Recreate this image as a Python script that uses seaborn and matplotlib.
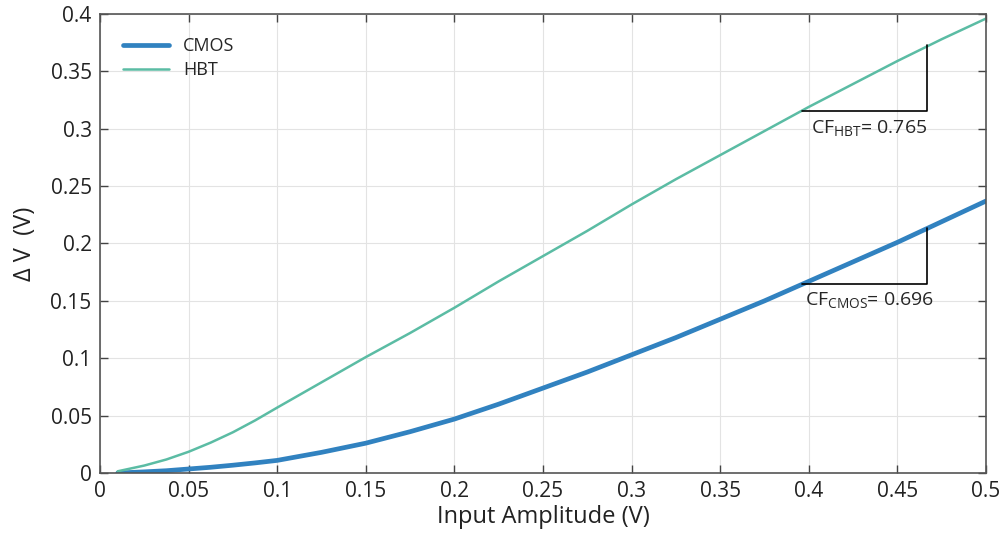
import numpy as np
import pandas as pd
import seaborn as sns
import matplotlib.pyplot as plt

# Values
amplitude = [0.01, 0.025, 0.0375, 0.05, 0.0625, 0.075, 0.0875, 0.1, 0.125, 0.15, 0.175,
             0.2, 0.225, 0.25, 0.275, 0.3, 0.325, 0.35, 0.375, 0.4, 0.425, 0.45, 0.475, 0.5]
dv_cmos = [0.0, 0.001, 0.002, 0.0035, 0.005, 0.0068, 0.0088, 0.011, 0.018, 0.026, 0.036,
           0.047, 0.060, 0.074, 0.088, 0.103, 0.118, 0.134, 0.150, 0.167, 0.184, 0.201,
           0.219, 0.237]
dv_hbt = [0.0015, 0.0065, 0.0118, 0.0185, 0.0265, 0.0355, 0.0458, 0.057, 0.079, 0.101,
          0.122, 0.144, 0.167, 0.189, 0.211, 0.234, 0.256, 0.277, 0.298, 0.319, 0.339,
          0.359, 0.378, 0.396]
series = ["CMOS", "HBT"]
colors = {"CMOS": "#3182c0", "HBT": "#5bbca4"}
widths = {"CMOS": 3.4, "HBT": 1.8}

# slope triangles: (x0, x1, y0, y1)
cf_hbt = (0.396, 0.467, 0.3155, 0.373)
cf_cmos = (0.396, 0.467, 0.1647, 0.2135)

df = pd.DataFrame({
    "amp": amplitude * 2,
    "dv": dv_cmos + dv_hbt,
    "dev": ["CMOS"] * len(amplitude) + ["HBT"] * len(amplitude),
})

sns.set_style("ticks")
plt.rcParams["font.family"] = ["Open Sans", "DejaVu Sans"]
plt.rcParams["mathtext.fontset"] = "custom"
plt.rcParams["mathtext.rm"] = "Open Sans"
plt.rcParams["mathtext.it"] = "Open Sans"

fig = plt.figure(figsize=(10.03, 5.38), dpi=100)
ax = fig.add_axes([0.0997, 0.1208, 0.8833, 0.8532])

for name in series:
    sub = df[df["dev"] == name]
    sns.lineplot(data=sub, x="amp", y="dv", ax=ax, color=colors[name],
                 linewidth=widths[name], label=name)

for x0, x1, y0, y1 in [cf_hbt, cf_cmos]:
    ax.plot([x0, x1, x1], [y0, y0, y1], color="black", linewidth=1.2)

ax.text(0.401, 0.3005, r"CF$_{\mathrm{HBT}}$= 0.765", fontsize=14, va="center", ha="left")
ax.text(0.398, 0.1505, r"CF$_{\mathrm{CMOS}}$= 0.696", fontsize=14, va="center", ha="left")

ax.set_xlim(0, 0.5)
ax.set_ylim(0, 0.4)
ax.set_xticks(np.arange(0, 0.501, 0.05))
ax.set_yticks(np.arange(0, 0.401, 0.05))
ax.set_xticklabels(["0", "0.05", "0.1", "0.15", "0.2", "0.25", "0.3", "0.35", "0.4", "0.45", "0.5"])
ax.set_yticklabels(["0", "0.05", "0.1", "0.15", "0.2", "0.25", "0.3", "0.35", "0.4"])
ax.grid(True, color="#e3e3e3", linewidth=0.8)
ax.tick_params(direction="in", length=6, width=1, colors="#444444", labelsize=15,
               top=True, right=True, labelcolor="#222222", pad=6)
for sp in ax.spines.values():
    sp.set_visible(True)
    sp.set_color("#555555")
    sp.set_linewidth(1.2)

ax.set_xlabel("Input Amplitude (V)", fontsize=17, color="#222222", labelpad=2)
ax.set_ylabel("Δ V  (V)", fontsize=17, color="#222222", labelpad=10)

ax.legend(loc="upper left", frameon=False, fontsize=13, handlelength=2.5,
          borderaxespad=0.9, labelspacing=0.3, handletextpad=0.8)

fig.savefig("out.png", dpi=100)
